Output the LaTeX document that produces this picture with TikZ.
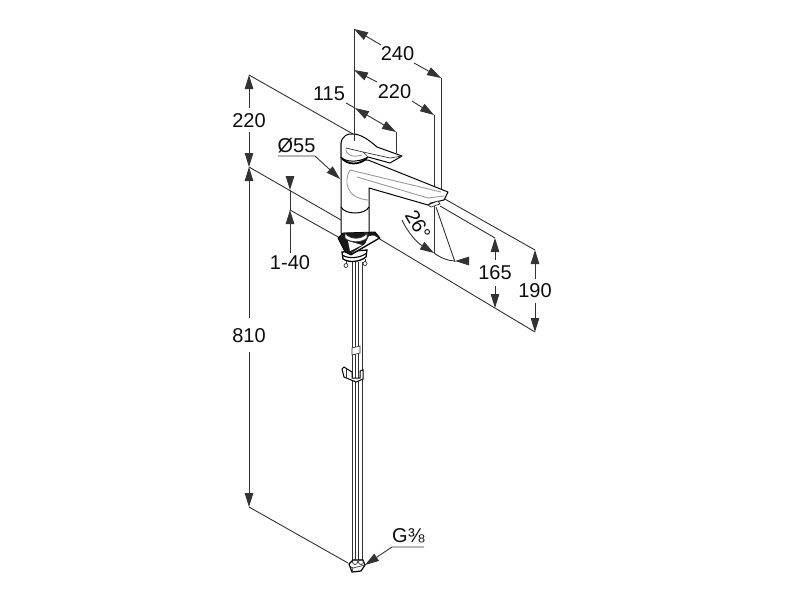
\documentclass[tikz,border=0pt]{standalone}
\usepackage{fontspec}
\setmainfont{Liberation Sans}
\usetikzlibrary{arrows.meta}
\tikzset{
  dim/.style={line width=0.9pt,draw=black!80},
  ext/.style={line width=0.9pt,draw=black!80},
  tip/.style={-{Triangle[length=14pt,width=8.5pt]}},
  tipb/.style={{Triangle[length=14pt,width=8.5pt]}-},
  lab/.style={font=\fontsize{20}{20}\selectfont,inner sep=0pt,text=black!95},
  body/.style={line width=1pt,draw=black,line join=round},
  thin/.style={line width=0.7pt,draw=black!80},
  soft/.style={line width=0.9pt,draw=black!40},
}
\begin{document}
\begin{tikzpicture}[x=1pt,y=-1pt]
\useasboundingbox (0,0) rectangle (800,600);
% --- named dimension points
\coordinate (t240a) at (354,29);
\coordinate (t240b) at (441,78);
\coordinate (t220a) at (354,70);
\coordinate (t220b) at (434,115);
\coordinate (t115a) at (355,108);
\coordinate (t115b) at (396,132);
\coordinate (t220l) at (249,75);
\coordinate (t220m) at (249,167);
\coordinate (t810b) at (249,507);
\coordinate (t14a) at (290,190);
\coordinate (t14b) at (290,210);
\coordinate (t165a) at (495,238);
\coordinate (t165b) at (495,308);
\coordinate (t190a) at (535,250);
\coordinate (t190b) at (535,332);
\coordinate (t55) at (340,179);
\coordinate (tG) at (365,565);
\coordinate (handleTop) at (353,134);
\coordinate (seatA) at (341,220);
\coordinate (seatB) at (340,238);
\coordinate (plateR) at (378,238);
\coordinate (spoutA) at (443,198);
\coordinate (spoutB) at (440,206);
\coordinate (nutL) at (348,563);
% --- labels
\node[lab] (l240) at (397.5,54) {240};
\node[lab] (l220t) at (394.5,92) {220};
\node[lab] (l115) at (329,94) {115};
\node[lab] (l220l) at (249,120.5) {220};
\node[lab] (l55) at (296.5,146) {Ø55};
\node[lab] (l810) at (249,336) {810};
\node[lab] (l140) at (290,263) {1-40};
\node[lab] (l165) at (495,273) {165};
\node[lab] (l190) at (535,291) {190};
\node[lab,rotate=-60] (l26) at (418,225) {26°};
\node[lab,anchor=west] (lG) at (392,536) {G⅜};
% --- extension lines
\draw[ext] (t220l) -- (handleTop);
\draw[ext] (t220m) -- (seatA);
\draw[ext] (t14b) -- (seatB);
\draw[ext] (plateR) -- (t190b);
\draw[ext] (spoutA) -- (t190a);
\draw[ext] (spoutB) -- (t165a);
\draw[ext] (nutL) -- (t810b);
\draw[ext] (t240a) -- (354,141);
\draw[ext] (t240b) -- (441,195);
\draw[ext] (t220b) -- (434,253);
\draw[ext] (t115b) -- (396,153);
\draw[ext] (436,207) -- (455,262);
% --- dimension lines
\draw[dim,tipb] (t240a) -- (381,45);
\draw[dim,tip] (414,63) -- (t240b);
\draw[dim,tipb] (t220a) -- (377,82);
\draw[dim,tip] (412,101) -- (t220b);
\draw[dim] (346,103) -- (t115a);
\draw[dim,tipb] (t115a) -- (372,118);
\draw[dim,tip] (372,118) -- (t115b);
\draw[dim,tipb] (t220l) -- (249,108);
\draw[dim,tip] (249,132) -- (t220m);
\draw[dim,tipb] (t220m) -- (249,318);
\draw[dim,tip] (249,352) -- (t810b);
\draw[dim,tip] (290,177) -- (t14a);
\draw[dim] (t14a) -- (t14b);
\draw[dim,tipb] (t14b) -- (290,253);
\draw[dim,tipb] (t165a) -- (495,260);
\draw[dim,tip] (495,286) -- (t165b);
\draw[dim,tipb] (t190a) -- (535,279);
\draw[dim,tip] (535,303) -- (t190b);
\draw[dim,tip] (278,156) -- (315,156) -- (t55);
\draw[dim,tip] (424,547) -- (392,547) -- (tG);
% --- angle arc
\draw[dim,tip] (402,220) .. controls (407,231) and (416,242) .. (434,253);
\draw[dim] (434,253) .. controls (441,258) and (448,261) .. (455,261);
\draw[dim,tipb] (455,261) -- (465,261);
% --- tubes
\foreach \x in {352,355.5,358.5,362} \draw[thin] (\x,262) -- (\x,561);
% --- clip and bracket on tubes
\draw[thin,fill=white] (352,348) -- (360,346) -- (360,353) -- (352,355) -- cycle;
\draw[line width=1pt,fill=white] (342,369) -- (344,367) -- (352,372) -- (352,378) -- (360,378) -- (360,371) -- (363,370) -- (363,379) -- (356,382) -- (344,377) -- cycle;
\draw[thin] (352,365) -- (352,372) (346,369) -- (346,378);
% --- tap body
\draw[body,fill=white] (341,143) -- (341,233) .. controls (345,240) and (365,240) .. (369,233) -- (369,188) -- (428,205) -- (431,203) -- (444,200) -- (448,192) -- (368,160) .. controls (360,160) and (345,160) .. (341,157) -- cycle;
% spout inner lines
\draw[soft] (350,170) .. controls (344,180) and (345,198) .. (368,200);
\draw[soft] (350,170) -- (441,192);
\draw[soft] (357,177) -- (428,198) -- (444,196);
% body seam
\draw[body] (341,207) .. controls (345,215) and (365,215) .. (369,207);
% spout tip
\draw[thin,fill=white] (428,205) -- (431,207) -- (440,204) -- (438,201) -- cycle;
% dark ring below handle
\draw[line width=1.8pt] (341,157) .. controls (347,166) and (360,165) .. (367,158);
% --- handle
\draw[body,fill=white] (341,143) .. controls (342,136) and (348,133) .. (353,134) .. controls (360,134) and (368,139) .. (377,147) -- (402,156) -- (390,163) -- (368,157) .. controls (358,163) and (345,162) .. (341,157) -- cycle;
\draw[soft] (346,148) .. controls (345,155) and (353,158) .. (362,155);
\draw[thin] (346,148) -- (363,152) -- (390,158) -- (402,156);
\draw[thin] (363,152) -- (368,157);
\draw[thin] (354,134) -- (354,141);
% --- collar below plate
\draw[line width=1.3pt,fill=white] (342,252) -- (343,259) .. controls (349,263) and (360,262) .. (366,257) -- (367,250) -- cycle;
\draw[line width=1.1pt] (343,255.5) .. controls (349,259) and (360,258) .. (366,253.5);
\draw[thin] (346,261) -- (346,264) (365,259) -- (365,262);
\draw[thin,fill=white] (346,265.5) circle (2);
\draw[thin,fill=white] (365,263.5) circle (2);
% --- base plate
\draw[line width=0.8pt,fill=black!90,line join=round] (338,238) -- (343,233) -- (375,232) -- (380,238) -- (351,255) -- (345,252) -- cycle;
\draw[draw=none,fill=white] (348,241) -- (362,245) -- (350,251) -- cycle;
\draw[draw=none,fill=white] (352,253) -- (378,238) -- (374,235.5) -- (369,236) -- (365,244) -- cycle;
\draw[thin,fill=white] (345,233) .. controls (350,240) and (362,240) .. (367,233) -- (367,238) .. controls (362,243) and (350,243) .. (345,238) -- cycle;
% --- bottom nut
\draw[line width=1.2pt,fill=white] (349,564) -- (353,560) -- (363,560) -- (365,565) -- (361,571) -- (352,572) -- cycle;
\draw[thin] (349,566) -- (353,568) -- (361,566) -- (365,565) (353,568) -- (352,572);
\draw[thin] (355,562) circle (2.5);
\draw[thin] (361,562) circle (2.5);
\end{tikzpicture}
\end{document}
